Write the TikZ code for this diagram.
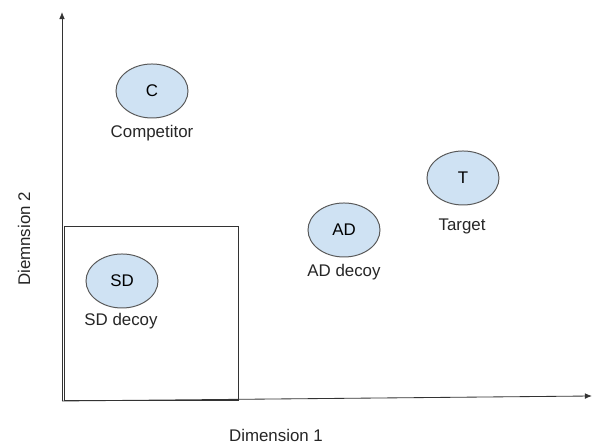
\documentclass[tikz,border=0pt]{standalone}
\usepackage{fontspec}
\setmainfont{Liberation Sans}
\usetikzlibrary{shapes.geometric,arrows.meta}
\definecolor{optFill}{HTML}{CFE2F3}
\definecolor{optLine}{HTML}{595959}
\definecolor{axisGray}{HTML}{333333}

\tikzset{
    option/.style={ellipse, draw=optLine, fill=optFill, line width=0.7pt,
        minimum width=1.8cm, minimum height=1.35cm, inner sep=0pt, font=\fontsize{12}{14}\selectfont},
    optlabel/.style={font=\fontsize{12}{14}\selectfont, text=black!85},
    axis/.style={line width=0.6pt, axisGray, -{Latex[length=5pt,width=4pt]}}
}

\begin{document}
\begin{tikzpicture}[x=0.025cm, y=0.025cm]
    \useasboundingbox (0,0) rectangle (600,444);
    % axes
    \coordinate (origin) at (62,43);
    \coordinate (xend) at (592,48);
    \coordinate (yend) at (62,432);
    \draw[axis] (origin) -- (xend);
    \draw[axis] (origin) -- (yend);
    \node[optlabel] (xlab) at (276,9) {Dimension 1};
    \node[optlabel, rotate=90] (ylab) at (24,205) {Diemnsion 2};
    % dominated region
    \draw[line width=0.6pt, axisGray] (64,44) rectangle (238,218);
    % options
    \node[option] (C) at (152,353) {C};
    \node[optlabel] (Clab) at (152,311) {Competitor};
    \node[option] (SD) at (122,163) {SD};
    \node[optlabel] (SDlab) at (121,123) {SD decoy};
    \node[option] (AD) at (344,214) {AD};
    \node[optlabel] (ADlab) at (344,172) {AD decoy};
    \node[option] (T) at (463,266) {T};
    \node[optlabel] (Tlab) at (462,218) {Target};
\end{tikzpicture}
\end{document}
